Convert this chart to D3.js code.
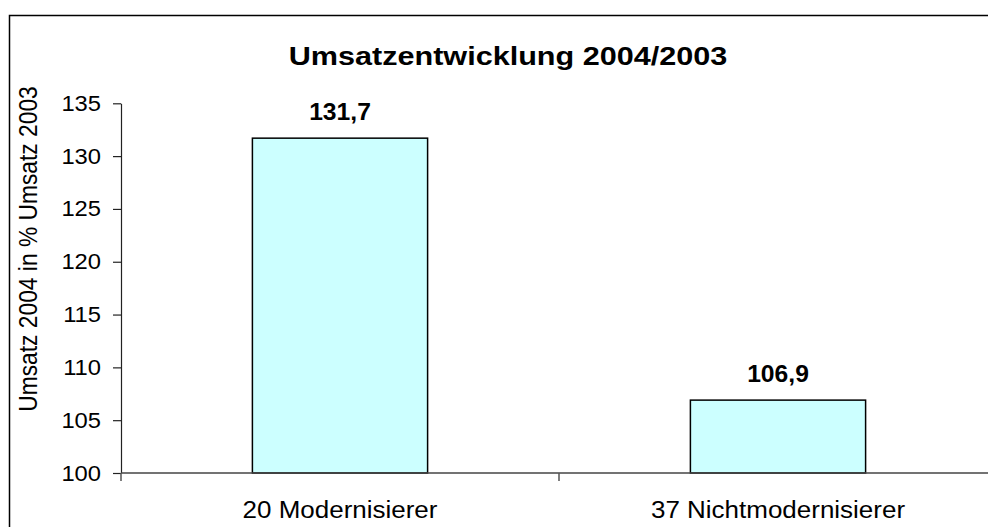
<!DOCTYPE html>
<html>
<head>
<meta charset="utf-8">
<script src="https://cdn.jsdelivr.net/npm/d3@7"></script>
<style>
  body { margin: 0; background: #fff; }
  text { font-family: "Liberation Sans", Arial, sans-serif; fill: #000; }
</style>
</head>
<body>
<svg id="chart" width="988" height="527"></svg>
<script>
// chart data
var categories = ["20 Modernisierer", "37 Nichtmodernisierer"];
var values = [131.7, 106.9];
var yTicks = [100, 105, 110, 115, 120, 125, 130, 135];
var title = "Umsatzentwicklung 2004/2003";
var yTitle = "Umsatz 2004 in % Umsatz 2003";

var plot = {left: 121, right: 997, top: 103.3, bottom: 473};

var de = d3.formatLocale({decimal: ",", thousands: ".", grouping: [3], currency: ["", " €"]});
var fmt = de.format(".1f");

var svg = d3.select("#chart");

// outer chart border (cut off at the right and bottom)
svg.append("rect")
    .attr("x", 9.5).attr("y", 15.5)
    .attr("width", 1100).attr("height", 600)
    .attr("fill", "none")
    .attr("stroke", "#000")
    .attr("stroke-width", 1.5);

var y = d3.scaleLinear().domain([100, 135]).range([plot.bottom, plot.top]);
var xCat = d3.scaleBand().domain(categories).range([plot.left, plot.right]).padding(0);
var bw = xCat.bandwidth();

// bars
svg.append("g").selectAll("rect")
    .data(categories)
  .enter().append("rect")
    .attr("x", function(d) { return xCat(d) + bw * 0.3; })
    .attr("width", bw * 0.4)
    .attr("y", function(d, i) { return y(values[i]); })
    .attr("height", function(d, i) { return y(100) - y(values[i]); })
    .attr("fill", "#ccffff")
    .attr("stroke", "#000")
    .attr("stroke-width", 1.5);

// value labels
svg.append("g").selectAll("text")
    .data(categories)
  .enter().append("text")
    .attr("transform", function(d, i) {
      return "translate(" + (xCat(d) + bw / 2) + "," + (y(values[i]) - 18.5) + ") scale(1.05,1)";
    })
    .attr("text-anchor", "middle")
    .style("font-size", "23.5px")
    .style("font-weight", "bold")
    .text(function(d, i) { return fmt(values[i]); });

// y axis
var yAxis = svg.append("g")
    .attr("transform", "translate(" + plot.left + ",0)")
    .call(d3.axisLeft(y).tickValues(yTicks).tickSize(8).tickSizeOuter(0));
yAxis.select(".domain").attr("stroke", "#222").attr("stroke-width", 1.2);
yAxis.selectAll(".tick line").attr("stroke", "#222").attr("stroke-width", 1.2);
yAxis.selectAll(".tick text")
    .attr("x", -18.5)
    .attr("transform", "scale(1.08,1)")
    .style("font-size", "22px")
    .style("font-family", "'Liberation Sans', Arial, sans-serif")
    .attr("fill", "#000");

// x axis line and category boundary ticks
var xg = svg.append("g");
xg.append("line")
    .attr("x1", plot.left).attr("x2", plot.right)
    .attr("y1", y(100)).attr("y2", y(100))
    .attr("stroke", "#444").attr("stroke-width", 1.5);
var bounds = categories.map(function(d) { return xCat(d); }).concat([plot.right]);
xg.selectAll(".btick")
    .data(bounds)
  .enter().append("line")
    .attr("class", "btick")
    .attr("x1", function(d) { return d; }).attr("x2", function(d) { return d; })
    .attr("y1", y(100)).attr("y2", y(100) + 8)
    .attr("stroke", "#555").attr("stroke-width", 1.5);
xg.selectAll(".clabel")
    .data(categories)
  .enter().append("text")
    .attr("class", "clabel")
    .attr("transform", function(d) { return "translate(" + (xCat(d) + bw / 2) + ",518) scale(1.13,1)"; })
    .attr("text-anchor", "middle")
    .style("font-size", "23px")
    .text(function(d) { return d; });

// title
svg.append("text")
    .attr("transform", "translate(508,65) scale(1.2,1)")
    .attr("text-anchor", "middle")
    .style("font-size", "25.5px")
    .style("font-weight", "bold")
    .text(title);

// y axis title
svg.append("text")
    .attr("transform", "translate(37,249) rotate(-90) scale(1,1.1)")
    .attr("text-anchor", "middle")
    .style("font-size", "22.8px")
    .text(yTitle);
</script>
</body>
</html>
